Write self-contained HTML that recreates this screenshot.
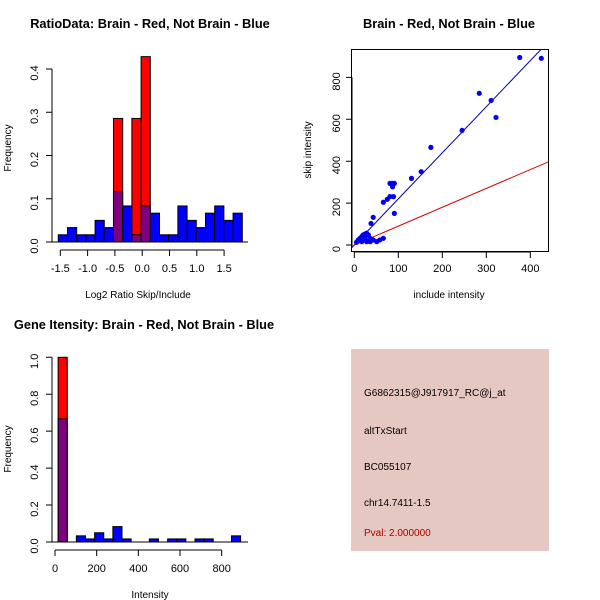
<!DOCTYPE html>
<html><head><meta charset="utf-8"><style>
body{margin:0;background:#fff}svg{display:block}
text{font-family:"Liberation Sans",sans-serif;fill:#000}
.t{font-weight:bold;font-size:12.8px}.tk{font-size:11px}.lb{font-size:10px}
</style></head><body>
<svg id="s" width="600" height="600" viewBox="0 0 600 600">
<text class="t" x="150" y="28" text-anchor="middle">RatioData: Brain - Red, Not Brain - Blue</text>
<text class="lb" x="138" y="298" text-anchor="middle">Log2 Ratio Skip/Include</text>
<text class="lb" x="11" y="148" text-anchor="middle" transform="rotate(-90 11 148)">Frequency</text>
<text class="t" x="449" y="28" text-anchor="middle">Brain - Red, Not Brain - Blue</text>
<text class="lb" x="449" y="298" text-anchor="middle">include intensity</text>
<text class="lb" x="311" y="150" text-anchor="middle" transform="rotate(-90 311 150)">skip intensity</text>
<text class="t" x="144" y="329" text-anchor="middle">Gene Itensity: Brain - Red, Not Brain - Blue</text>
<text class="lb" x="150" y="598" text-anchor="middle">Intensity</text>
<text class="lb" x="11" y="449" text-anchor="middle" transform="rotate(-90 11 449)">Frequency</text>
<rect x="351" y="349" width="198" height="202" fill="#e6c8c2"/>
<text class="lb" x="364" y="396">G6862315@J917917_RC@j_at</text>
<text class="lb" x="364" y="434">altTxStart</text>
<text class="lb" x="364" y="470">BC055107</text>
<text class="lb" x="364" y="506">chr14.7411-1.5</text>
<text class="lb" x="364" y="536" style="fill:#b00000">Pval: 2.000000</text>
</svg>
<script>
const ratioBlue=[1/60,2/60,1/60,1/60,3/60,2/60,7/60,5/60,1/60,5/60,4/60,1/60,1/60,5/60,3/60,2/60,4/60,5/60,3/60,4/60];
const ratioRed=[0,0,0,0,0,0,2/7,0,2/7,3/7,0,0,0,0,0,0,0,0,0,0];
const ratioXTicks=[-1.5,-1.0,-0.5,0.0,0.5,1.0,1.5];
const ratioXLabels=["-1.5","-1.0","-0.5","0.0","0.5","1.0","1.5"];
const ratioYTicks=[0,0.1,0.2,0.3,0.4];
const intBlue=[2/3,0,2/60,1/60,3/60,1/60,5/60,1/60,0,0,1/60,0,1/60,1/60,0,1/60,1/60,0,0,2/60];
const intRed=[1,0,0,0,0,0,0,0,0,0,0,0,0,0,0,0,0,0,0,0];
const intXTicks=[0,200,400,600,800];
const intYTicks=[0,0.2,0.4,0.6,0.8,1.0];
const scX=[5,9,13,17,20,24,28,32,36,39,43,51,58,66,28,17,24,36,38,43,66,75,81,89,81,86,91,87,91,130,152,174,245,284,311,322,376,425];
const scY=[13,24,32,40,48,52,56,48,32,24,24,16,24,32,16,16,32,16,103,132,204,218,231,231,294,294,294,278,151,318,350,466,547,724,690,609,895,891];
const scXTicks=[0,100,200,300,400];
const scYTicks=[0,200,400,600,800];
const blueSlope=2.2, redSlope=0.9;
const s=document.getElementById('s');const NS='http://www.w3.org/2000/svg';
function mk(t,a){const e=document.createElementNS(NS,t);for(const k in a)e.setAttribute(k,a[k]);s.appendChild(e);return e;}
function txt(x,y,str,rot){const e=mk('text',{x:x,y:y,'text-anchor':'middle',class:'tk'});if(rot)e.setAttribute('transform','rotate(-90 '+x+' '+y+')');e.textContent=str;return e;}
function hist(blue,red,x0,bw,yAt,pre){
 for(let i=0;i<blue.length;i++){const x=x0+i*bw;
  if(red[i]>0){const r=mk('rect',{x:x,y:yAt(red[i]),width:bw,height:yAt(0)-yAt(red[i]),fill:'#ff0000',stroke:'#000','stroke-width':1});
   }
  if(blue[i]>0){const c=red[i]>0?'#7f007f':'#0000ff';const r=mk('rect',{x:x,y:yAt(blue[i]),width:bw,height:yAt(0)-yAt(blue[i]),fill:c,stroke:'#000','stroke-width':1});
   }
 }}
const rx=v=>60.3+(v+1.5)*54.6, ry=v=>242-v*432.5;
hist(ratioBlue,ratioRed,rx(-1.537),rx(-1.537+0.1685)-rx(-1.537),ry,'ratio');
mk('line',{x1:50,y1:242,x2:248,y2:242,stroke:'#000'});
let a=mk('path',{d:'M52,'+ry(0)+'V'+ry(0.4)+ratioYTicks.map(t=>'M52,'+ry(t)+'h-6').join(''),stroke:'#000',fill:'none'});

ratioYTicks.forEach(t=>txt(38,ry(t)+4,t.toFixed(1),true));
a=mk('path',{d:'M'+rx(-1.5)+',250H'+rx(1.5)+ratioXTicks.map(t=>'M'+rx(t)+',250v6').join(''),stroke:'#000',fill:'none'});

ratioXTicks.forEach((t,i)=>txt(rx(t),272,ratioXLabels[i]));
const sx=v=>354.3+v*0.44, sy=v=>245-v*0.2095;
a=mk('rect',{x:351.5,y:49.5,width:197,height:202,fill:'none',stroke:'#000'});

mk('path',{d:scYTicks.map(t=>'M352,'+sy(t)+'h-6').join('')+'M352,'+sy(0)+'V'+sy(800),stroke:'#000'});
scYTicks.forEach(t=>txt(340,sy(t)+4,String(t),true));
mk('path',{d:scXTicks.map(t=>'M'+sx(t)+',252v6').join('')+'M'+sx(0)+',252H'+sx(400),stroke:'#000'});
scXTicks.forEach(t=>txt(sx(t),272,String(t)));
const cl=mk('clipPath',{id:'c'});const cr=document.createElementNS(NS,'rect');cr.setAttribute('x',352);cr.setAttribute('y',50);cr.setAttribute('width',196);cr.setAttribute('height',201);cl.appendChild(cr);
a=mk('line',{x1:sx(-10),y1:sy(-10*blueSlope),x2:sx(450),y2:sy(450*blueSlope),stroke:'#0000aa','clip-path':'url(#c)'});

a=mk('line',{x1:sx(-10),y1:sy(-10*redSlope),x2:sx(450),y2:sy(450*redSlope),stroke:'#cc0000','clip-path':'url(#c)'});

for(let i=0;i<scX.length;i++){const p=mk('circle',{cx:sx(scX[i]),cy:sy(scY[i]),r:2.6,fill:'#0000ee'});
 }
const ix=v=>55+v*0.20833, iy=v=>542-v*184.7;
hist(intBlue,intRed,ix(15),ix(15+43.8)-ix(15),iy,'intensity');
mk('line',{x1:50,y1:542,x2:248,y2:542,stroke:'#000'});
a=mk('path',{d:'M52,'+iy(0)+'V'+iy(1)+intYTicks.map(t=>'M52,'+iy(t)+'h-6').join(''),stroke:'#000',fill:'none'});

intYTicks.forEach(t=>txt(38,iy(t)+4,t.toFixed(1),true));
a=mk('path',{d:'M'+ix(0)+',550H'+ix(800)+intXTicks.map(t=>'M'+ix(t)+',550v6').join(''),stroke:'#000',fill:'none'});

intXTicks.forEach(t=>txt(ix(t),572,String(t)));
</script>
</body></html>
